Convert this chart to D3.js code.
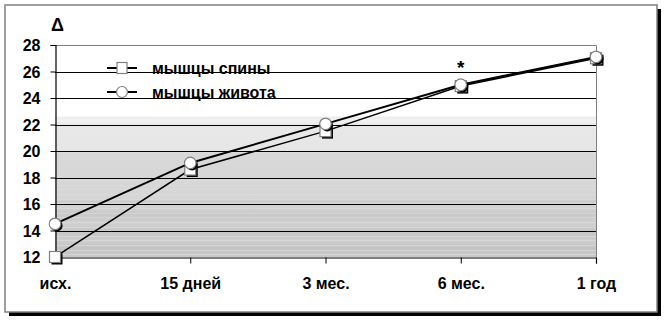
<!DOCTYPE html>
<html><head><meta charset="utf-8">
<script src="https://cdn.jsdelivr.net/npm/d3@7"></script>
<style>body{margin:0;background:#fff}svg{display:block;font-family:Arial,"Liberation Sans",sans-serif}</style>
</head><body>
<svg id="c" width="666" height="320"></svg>
<script>
const categories = ["исх.", "15 дней", "3 мес.", "6 мес.", "1 год"];
const backValues = [12, 18.6, 21.5, 24.9, 27.0];
const bellyValues = [14.5, 19.1, 22.05, 25.0, 27.1];
const seriesNames = ["мышцы спины", "мышцы живота"];
const yTicks = [12, 14, 16, 18, 20, 22, 24, 26, 28];
const markedCategory = "6 мес.";

const svg = d3.select("#c");
const L = 55, R = 596, T = 45, B = 257;
const x = d3.scalePoint().domain(categories).range([L, R]);
const y = d3.scaleLinear().domain([12, 28]).range([B, T]);

// frame with shadow
svg.append("rect").attr("x", 9).attr("y", 9).attr("width", 652).attr("height", 307).attr("fill", "#000");
svg.append("rect").attr("x", 5).attr("y", 5).attr("width", 652).attr("height", 307)
  .attr("fill", "#fff").attr("stroke", "#808080").attr("stroke-width", 1.5);

// background gradient of plot area
const defs = svg.append("defs");
const g = defs.append("linearGradient").attr("id", "bg").attr("x1", 0).attr("y1", 0).attr("x2", 0).attr("y2", 1);
const stops = [
  [0, "#ffffff"], [0.335, "#ffffff"], [0.34, "#ececec"], [0.36, "#f2f2f2"], [0.375, "#e8e8e8"],
  [0.5, "#e6e6e6"], [0.51, "#d8d8d8"], [0.72, "#d6d6d6"], [0.74, "#cccccc"], [0.76, "#d4d4d4"],
  [0.8, "#c8c8c8"], [0.84, "#d0d0d0"], [0.88, "#c6c6c6"], [0.92, "#cecece"], [0.96, "#c4c4c4"], [1, "#cacaca"]
];
stops.forEach(s => g.append("stop").attr("offset", s[0]).attr("stop-color", s[1]));
svg.append("rect").attr("x", L).attr("y", T).attr("width", R - L).attr("height", B - T).attr("fill", "url(#bg)");

// faint stripes in the lower part
const stripes = d3.range(12.2, 17.8, 0.35);
svg.append("g").selectAll("line").data(stripes).join("line")
  .attr("x1", L).attr("x2", R).attr("y1", d => Math.round(y(d)) + 0.5).attr("y2", d => Math.round(y(d)) + 0.5)
  .attr("stroke", "#dcdcdc").attr("stroke-width", 1).attr("opacity", 0.7);

// gridlines
svg.append("g").selectAll("line").data(yTicks.filter(d => d > 12 && d < 28)).join("line")
  .attr("x1", L).attr("x2", R).attr("y1", d => Math.round(y(d)) + 0.5).attr("y2", d => Math.round(y(d)) + 0.5)
  .attr("stroke", "#000").attr("stroke-width", 1);

// plot border top/right gray
svg.append("path").attr("d", `M${L},${T + 0.5}H${R + 0.5}V${B}`).attr("fill", "none").attr("stroke", "#808080");

// axes
const yAxis = svg.append("g").attr("transform", `translate(${L + 0.5},0)`)
  .call(d3.axisLeft(y).tickValues(yTicks).tickSize(5).tickPadding(10).tickFormat(d3.format("d")));
const xAxis = svg.append("g").attr("transform", `translate(0,${B + 0.5})`)
  .call(d3.axisBottom(x).tickSize(6).tickPadding(14));
[yAxis, xAxis].forEach(a => {
  a.select(".domain").attr("stroke", "#000").attr("stroke-width", 1.2);
  a.selectAll(".tick line").attr("stroke", "#000");
  a.selectAll("text").attr("fill", "#000").attr("font-size", 16).attr("font-weight", "bold")
    .attr("font-family", "Arial, 'Liberation Sans', sans-serif");
});
xAxis.selectAll(".tick").filter((d, i) => i === 0).select("line").remove();
xAxis.selectAll("text").attr("y", 31.5).attr("dy", 0);
yAxis.selectAll("text").attr("dy", "0.36em");

// delta label
svg.append("text").attr("x", 51).attr("y", 31).text("Δ")
  .attr("font-size", 18).attr("font-weight", "bold");

// series
function drawSeries(values, width, shape) {
  const line = d3.line().x((d, i) => x(categories[i])).y(d => y(d));
  svg.append("path").datum(values).attr("d", line).attr("fill", "none")
    .attr("stroke", "#000").attr("stroke-width", width);
  const pts = values.map((v, i) => [x(categories[i]), y(v)]);
  pts.forEach(p => drawMarker(svg, p[0], p[1], shape, true));
}
function drawMarker(parent, cx, cy, shape, shadow) {
  if (shape === "square") {
    if (shadow) parent.append("rect").attr("x", cx - 3.5).attr("y", cy - 3.5).attr("width", 11).attr("height", 11).attr("fill", "#000");
    parent.append("rect").attr("x", cx - 5.5).attr("y", cy - 5.5).attr("width", 11).attr("height", 11)
      .attr("fill", "#fff").attr("stroke", "#808080").attr("stroke-width", 1.2);
  } else {
    if (shadow) parent.append("circle").attr("cx", cx + 1.8).attr("cy", cy + 1.8).attr("r", 5.8).attr("fill", "#000");
    parent.append("circle").attr("cx", cx).attr("cy", cy).attr("r", 5.8)
      .attr("fill", "#fff").attr("stroke", "#808080").attr("stroke-width", 1.2);
  }
}
drawSeries(backValues, 1.5, "square");
drawSeries(bellyValues, 2, "circle");

// asterisk
svg.append("text").attr("x", x(markedCategory)).attr("y", 74).attr("text-anchor", "middle")
  .attr("font-size", 19).attr("font-weight", "bold").text("*");

// legend
const legendShapes = ["square", "circle"];
seriesNames.forEach((name, i) => {
  const ly = 68 + i * 24;
  svg.append("line").attr("x1", 107).attr("x2", 137).attr("y1", ly).attr("y2", ly)
    .attr("stroke", "#000").attr("stroke-width", 2);
  const m = svg.append("g");
  if (legendShapes[i] === "square") {
    m.append("rect").attr("x", 117).attr("y", ly - 5.5).attr("width", 10).attr("height", 11)
      .attr("fill", "#fff").attr("stroke", "#808080").attr("stroke-width", 1.2);
  } else {
    m.append("circle").attr("cx", 122).attr("cy", ly).attr("r", 5.5)
      .attr("fill", "#fff").attr("stroke", "#808080").attr("stroke-width", 1.2);
  }
  svg.append("text").attr("x", 152).attr("y", ly + 6).text(name)
    .attr("font-size", 16).attr("font-weight", "bold");
});
</script>
</body></html>
